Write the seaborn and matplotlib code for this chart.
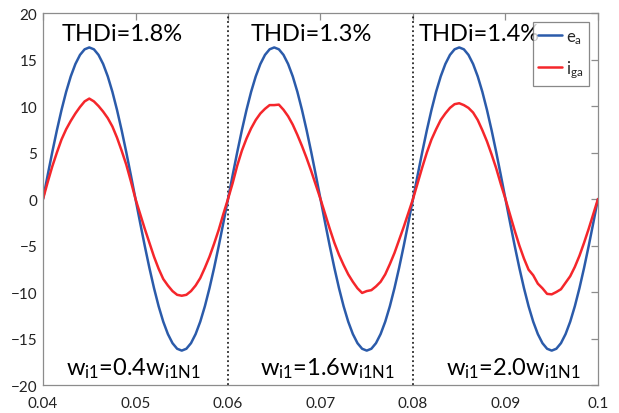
import numpy as np
import pandas as pd
import matplotlib
matplotlib.use("Agg")
import matplotlib.pyplot as plt
import seaborn as sns

# Sample times (s), 0.5 ms spacing over three line cycles
time_s = [round(0.04 + 0.0005 * k, 4) for k in range(121)]

# Grid voltage e_a
e_a = [
    0.00, 2.55, 5.04, 7.40, 9.58, 11.53, 13.19, 14.52, 15.50, 16.10, 16.30,
    16.10, 15.50, 14.52, 13.19, 11.53, 9.58, 7.40, 5.04, 2.55, 0.00,
    -2.55, -5.04, -7.40, -9.58, -11.53, -13.19, -14.52, -15.50, -16.10, -16.30,
    -16.10, -15.50, -14.52, -13.19, -11.53, -9.58, -7.40, -5.04, -2.55, 0.00,
    2.55, 5.04, 7.40, 9.58, 11.53, 13.19, 14.52, 15.50, 16.10, 16.30,
    16.10, 15.50, 14.52, 13.19, 11.53, 9.58, 7.40, 5.04, 2.55, 0.00,
    -2.55, -5.04, -7.40, -9.58, -11.53, -13.19, -14.52, -15.50, -16.10, -16.30,
    -16.10, -15.50, -14.52, -13.19, -11.53, -9.58, -7.40, -5.04, -2.55, 0.00,
    2.55, 5.04, 7.40, 9.58, 11.53, 13.19, 14.52, 15.50, 16.10, 16.30,
    16.10, 15.50, 14.52, 13.19, 11.53, 9.58, 7.40, 5.04, 2.55, 0.00,
    -2.55, -5.04, -7.40, -9.58, -11.53, -13.19, -14.52, -15.50, -16.10, -16.30,
    -16.10, -15.50, -14.52, -13.19, -11.53, -9.58, -7.40, -5.04, -2.55, 0.00,
]

# Grid current i_ga
i_ga = [
    0.00, 1.8, 3.5, 5.0, 6.4, 7.5, 8.4, 9.2, 9.9, 10.5, 10.8,
    10.5, 10.0, 9.4, 8.7, 7.8, 6.6, 5.2, 3.7, 1.9, 0.0,
    -1.6, -3.2, -4.7, -6.2, -7.5, -8.6, -9.3, -9.9, -10.3, -10.4,
    -10.3, -9.9, -9.3, -8.5, -7.4, -6.2, -4.8, -3.3, -1.6, 0.0,
    1.7, 3.6, 5.2, 6.5, 7.6, 8.5, 9.2, 9.7, 10.1, 10.1,
    10.15, 9.6, 8.9, 8.0, 6.9, 5.7, 4.4, 3.0, 1.5, 0.0,
    -1.6, -3.2, -4.7, -6.0, -7.1, -8.1, -8.9, -9.6, -10.1, -9.9,
    -9.8, -9.4, -8.9, -8.1, -7.0, -5.8, -4.4, -3.0, -1.5, 0.0,
    1.7, 3.4, 5.0, 6.4, 7.5, 8.5, 9.2, 9.8, 10.2, 10.3,
    10.1, 9.8, 9.3, 8.5, 7.4, 6.2, 4.8, 3.3, 1.6, 0.0,
    -1.7, -3.4, -5.0, -6.4, -7.6, -8.2, -9.1, -9.6, -10.2, -10.25,
    -10.0, -9.7, -9.0, -8.3, -7.3, -6.1, -4.7, -3.2, -1.6, 0.0,
]

series_names = ["e_a", "i_ga"]
legend_labels = [r"$\mathregular{e_a}$", r"$\mathregular{i_{ga}}$"]
line_colors = ["#2b5baa", "#f5262b"]

thd_labels = ["THDi=1.8%", "THDi=1.3%", "THDi=1.4%"]
thd_x = [0.0420, 0.0624, 0.08065]
gain_labels = [r"$\mathregular{w_{i1}}$=0.4$\mathregular{w_{i1N1}}$",
               r"$\mathregular{w_{i1}}$=1.6$\mathregular{w_{i1N1}}$",
               r"$\mathregular{w_{i1}}$=2.0$\mathregular{w_{i1N1}}$"]
gain_x = [0.0425, 0.0635, 0.0836]
step_times = [0.06, 0.08]

x_ticks = [0.04, 0.05, 0.06, 0.07, 0.08, 0.09, 0.1]
x_tick_labels = ["0.04", "0.05", "0.06", "0.07", "0.08", "0.09", "0.1"]
y_ticks = [-20, -15, -10, -5, 0, 5, 10, 15, 20]

df = pd.DataFrame({"t": time_s * 2,
                   "value": e_a + i_ga,
                   "signal": ["e_a"] * len(time_s) + ["i_ga"] * len(time_s)})

sns.set_style("white")
plt.rcParams["font.family"] = ["Lato", "DejaVu Sans"]
plt.rcParams["mathtext.fontset"] = "custom"
plt.rcParams["mathtext.rm"] = "Lato"

fig = plt.figure(figsize=(6.19, 4.14), dpi=100)
ax = fig.add_axes([0.0695, 0.0676, 0.8965, 0.8985])

sns.lineplot(data=df, x="t", y="value", hue="signal", hue_order=series_names,
             palette=line_colors, linewidth=1.8, ax=ax, legend=False)

for xv in step_times:
    ax.axvline(xv, color="black", linestyle=(0, (1.2, 1.8)), linewidth=1.1, zorder=1)

ax.set_xlim(0.04, 0.1)
ax.set_ylim(-20, 20)
ax.set_xticks(x_ticks)
ax.set_xticklabels(x_tick_labels)
ax.set_yticks(y_ticks)
ax.set_xlabel("")
ax.set_ylabel("")

spine_col = "#8c8c8c"
for s in ax.spines.values():
    s.set_visible(True)
    s.set_color(spine_col)
    s.set_linewidth(0.9)
ax.tick_params(direction="in", length=5, width=0.9, color=spine_col,
               top=True, right=True, labelsize=11, labelcolor="#222222", pad=4)
ax.tick_params(axis="x", pad=8)

for lab, xv in zip(thd_labels, thd_x):
    ax.text(xv, 17.8, lab, fontsize=17, va="center", ha="left", color="black")
for lab, xv in zip(gain_labels, gain_x):
    ax.text(xv, -18.1, lab, fontsize=17, va="center", ha="left", color="black")

handles = [plt.Line2D([], [], color=c, linewidth=1.8) for c in line_colors]
leg = ax.legend(handles, legend_labels, loc="upper right",
                bbox_to_anchor=(0.984, 0.975), fontsize=12, frameon=True,
                fancybox=False, handlelength=1.4, handletextpad=0.25,
                borderpad=0.35, labelspacing=0.75, borderaxespad=0.0)
leg.get_frame().set_edgecolor("#6a6a6a")
leg.get_frame().set_linewidth(0.9)

fig.savefig("out.png", dpi=100)
